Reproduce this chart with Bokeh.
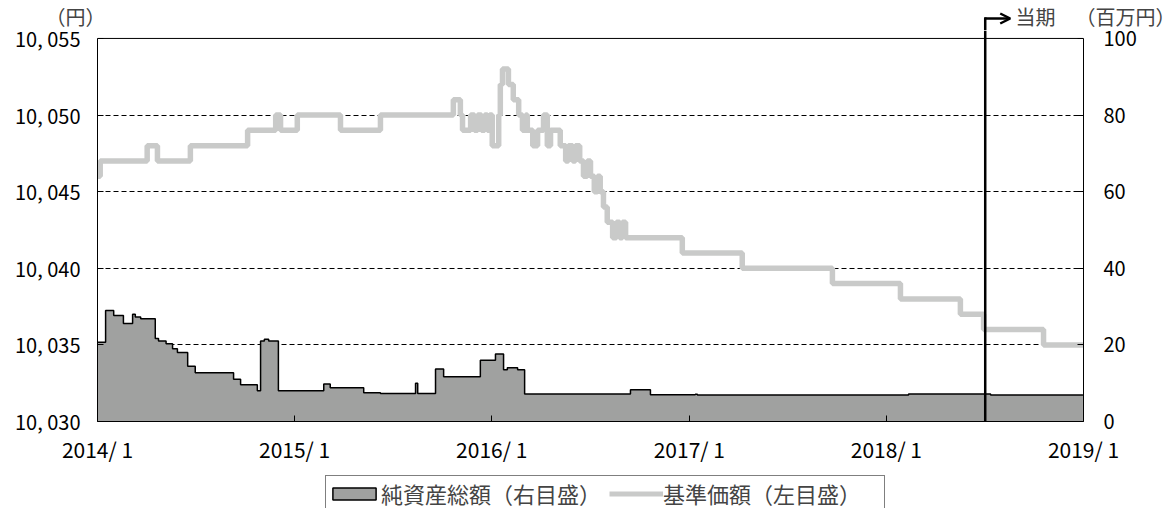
import pandas as pd
from bokeh.plotting import figure
from bokeh.layouts import column
from bokeh.models import (Range1d, LinearAxis, FixedTicker, Legend, LegendItem,
                          Label, Arrow, OpenHead, ColumnDataSource, Span)
from bokeh.embed import file_html
from bokeh.resources import INLINE

# ---------------- data ----------------
price_dates = [
    "2014-01-01", "2014-01-06", "2014-04-03", "2014-04-22", "2014-06-22", "2014-10-06",
    "2014-11-27", "2014-12-06", "2015-01-06", "2015-03-27", "2015-06-09", "2015-10-22",
    "2015-11-04", "2015-11-08", "2015-11-23", "2015-11-30", "2015-12-06", "2015-12-13",
    "2015-12-19", "2015-12-24", "2015-12-28", "2016-01-02", "2016-01-14", "2016-01-17",
    "2016-01-21", "2016-02-01", "2016-02-10", "2016-02-20", "2016-02-27", "2016-03-04",
    "2016-03-07", "2016-03-17", "2016-03-26", "2016-04-06", "2016-04-13", "2016-04-19",
    "2016-05-07", "2016-05-17", "2016-05-22", "2016-05-30", "2016-06-04", "2016-06-12",
    "2016-06-19", "2016-06-26", "2016-07-02", "2016-07-09", "2016-07-15", "2016-07-20",
    "2016-07-26", "2016-08-02", "2016-08-12", "2016-08-19", "2016-08-25", "2016-08-30",
    "2016-09-05", "2016-12-19", "2017-04-09", "2017-09-23", "2018-01-27", "2018-05-18",
    "2018-06-30", "2018-10-19", "2018-12-31",
]
price_values = [
    10046, 10047, 10048, 10047, 10048, 10049,
    10050, 10049, 10050, 10049, 10050, 10051,
    10050, 10049, 10050, 10049, 10050, 10049,
    10050, 10049, 10050, 10048, 10050, 10052,
    10053, 10052, 10051, 10050, 10049, 10050,
    10049, 10048, 10049, 10050, 10048, 10049,
    10048, 10047, 10048, 10047, 10048, 10047,
    10046, 10047, 10046, 10045, 10046, 10045,
    10044, 10043, 10042, 10043, 10042, 10043,
    10042, 10041, 10040, 10039, 10038, 10037,
    10036, 10035, 10035,
]

nav_dates = [
    "2014-01-01", "2014-01-16", "2014-01-31", "2014-02-18", "2014-03-07", "2014-03-12",
    "2014-03-22", "2014-04-18", "2014-04-24", "2014-05-08", "2014-05-20", "2014-05-29",
    "2014-06-17", "2014-07-01", "2014-09-10", "2014-09-23", "2014-10-24", "2014-10-30",
    "2014-11-06", "2014-11-14", "2014-12-02", "2015-02-24", "2015-03-08", "2015-05-09",
    "2015-06-09", "2015-08-13", "2015-08-17", "2015-09-19", "2015-10-04", "2015-12-11",
    "2016-01-08", "2016-01-23", "2016-01-30", "2016-02-18", "2016-03-02", "2016-09-14",
    "2016-10-21", "2017-01-12", "2017-01-16", "2018-02-11", "2018-07-13", "2018-12-31",
]
nav_values = [
    20.7, 29.0, 27.7, 25.6, 28.0, 27.3,
    26.8, 21.7, 21.0, 20.3, 19.0, 18.0,
    14.4, 12.7, 11.0, 9.6, 8.0, 21.0,
    21.5, 21.0, 8.0, 9.8, 8.8, 7.5,
    7.3, 10.0, 7.3, 13.7, 11.7, 16.0,
    17.6, 13.5, 14.0, 13.5, 7.2, 8.3,
    7.0, 7.1, 6.9, 7.2, 6.9, 6.9,
]

x_tick_dates = ["2014-01-01", "2015-01-01", "2016-01-01", "2017-01-01", "2018-01-01", "2019-01-01"]
x_tick_labels = ["2014/ 1", "2015/ 1", "2016/ 1", "2017/ 1", "2018/ 1", "2019/ 1"]
left_ticks = [10030, 10035, 10040, 10045, 10050, 10055]
left_tick_labels = ["10, 030", "10, 035", "10, 040", "10, 045", "10, 050", "10, 055"]
right_ticks = [0, 20, 40, 60, 80, 100]
grid_ticks = [10035, 10040, 10045, 10050]
period_start = "2018-07-03"

FONT = "Noto Sans CJK JP"
PRICE_COLOR = "#c9cac9"
NAV_COLOR = "#a0a1a0"

# ---------------- layout constants (pixels) ----------------
W = 1168
HDR_H = 30          # header strip (units, 当期 marker)
TOP_PAD = 8         # plot area above the 10,055 line inside main frame
FRAME_L, FRAME_R = 97, 85
BOX_H = 386         # height of the drawn box (10,030 .. 10,055)
MAIN_BOTTOM = 42
FOOT_H = 42


def ms(d):
    return int(pd.Timestamp(d).value // 10**6)


x0, x1 = ms(x_tick_dates[0]), ms(x_tick_dates[-1])
ms_per_px = (x1 - x0) / (W - FRAME_L - FRAME_R)
pm = ms(period_start)

left_lo, left_hi = min(left_ticks), max(left_ticks)
right_lo, right_hi = min(right_ticks), max(right_ticks)
left_top = left_hi + TOP_PAD * (left_hi - left_lo) / BOX_H
right_top = right_hi + TOP_PAD * (right_hi - right_lo) / BOX_H

# ---------------- main figure ----------------
p = figure(width=W, height=TOP_PAD + BOX_H + MAIN_BOTTOM, x_axis_type="datetime",
           x_range=Range1d(x0, x1), y_range=Range1d(left_lo, left_top),
           output_backend="svg", toolbar_location=None,
           min_border_left=FRAME_L, min_border_right=FRAME_R,
           min_border_top=0, min_border_bottom=MAIN_BOTTOM)
p.extra_y_ranges = {"right": Range1d(right_lo, right_top)}
p.outline_line_color = None
p.background_fill_color = "white"
p.border_fill_color = "white"

nav_src = ColumnDataSource(dict(date=pd.to_datetime(nav_dates), nav=nav_values))
price_src = ColumnDataSource(dict(date=pd.to_datetime(price_dates), price=price_values))

p.varea_step(x="date", y1=0, y2="nav", step_mode="after", source=nav_src,
             fill_color=NAV_COLOR, y_range_name="right")
p.step(x="date", y="nav", mode="after", source=nav_src, line_color="black",
       line_width=1.5, y_range_name="right")
p.step(x="date", y="price", mode="after", source=price_src, line_color=PRICE_COLOR,
       line_width=5.5)

x_ms = [ms(d) for d in x_tick_dates]
p.xaxis.ticker = FixedTicker(ticks=x_ms)
p.xaxis.major_label_overrides = dict(zip(x_ms, x_tick_labels))
# top tick listed in the middle so that it is not treated as an end label
left_order = [left_ticks[0], left_ticks[-1]] + left_ticks[1:-1]
p.yaxis.ticker = FixedTicker(ticks=left_order)
p.yaxis.major_label_overrides = dict(zip(left_ticks, left_tick_labels))
p.yaxis.bounds = (left_lo, left_hi)

right_order = [right_ticks[0], right_ticks[-1]] + right_ticks[1:-1]
rax = LinearAxis(y_range_name="right", ticker=FixedTicker(ticks=right_order),
                 bounds=(right_lo, right_hi))
p.add_layout(rax, "right")

for ax in [p.xaxis[0], p.yaxis[0], rax]:
    ax.axis_line_color = "black"
    ax.axis_line_width = 1
    ax.major_tick_line_color = "black"
    ax.major_tick_in = 6
    ax.major_tick_out = 0
    ax.minor_tick_line_color = None
    ax.major_label_text_font = FONT
    ax.major_label_text_font_size = "20px"
    ax.major_label_text_color = "black"
p.xaxis.major_label_text_font_size = "21px"
p.xaxis.major_label_standoff = 12
p.yaxis.major_label_standoff = 17
rax.major_label_standoff = 20

p.xgrid.visible = False
p.ygrid.ticker = FixedTicker(ticks=grid_ticks)
p.ygrid.grid_line_color = "black"
p.ygrid.grid_line_dash = "5 3"
p.ygrid.grid_line_width = 1

# top edge of the box
p.add_layout(Span(location=left_hi, dimension="width", line_color="black", line_width=1))
# period marker (inside plot area)
p.add_layout(Span(location=pm, dimension="height", line_color="black", line_width=2.5))

# ---------------- header strip ----------------
hdr = figure(width=W, height=HDR_H, x_axis_type="datetime",
             x_range=Range1d(x0 - FRAME_L * ms_per_px, x1 + FRAME_R * ms_per_px),
             y_range=Range1d(0, HDR_H),
             output_backend="svg", toolbar_location=None,
             x_axis_location=None, y_axis_location=None, min_border=0)
hdr.frame_align = False
hdr.outline_line_color = None
hdr.grid.visible = False
hdr.border_fill_color = "white"
hdr.background_fill_color = "white"

ARROW_Y = 12
TEXT_Y = 14
hdr.add_layout(Arrow(end=None, x_start=pm, y_start=0, x_end=pm, y_end=ARROW_Y,
                     line_width=2.5, line_color="black", line_cap="square"))
hdr.add_layout(Arrow(end=OpenHead(size=10, line_width=2.5, line_color="black"),
                     x_start=pm, y_start=ARROW_Y, x_end=pm + 25 * ms_per_px, y_end=ARROW_Y,
                     line_width=2.5, line_color="black"))
hdr.add_layout(Label(x=1015, y=TEXT_Y, x_units="screen", y_units="screen", text="当期",
                     text_font=FONT, text_font_size="20px", text_baseline="middle",
                     text_align="left"))
hdr.add_layout(Label(x=75, y=TEXT_Y, x_units="screen", y_units="screen", text="（円）",
                     text_font=FONT, text_font_size="20px", text_align="center",
                     text_baseline="middle"))
hdr.add_layout(Label(x=1125, y=TEXT_Y, x_units="screen", y_units="screen", text="（百万円）",
                     text_font=FONT, text_font_size="20px", text_align="center",
                     text_baseline="middle"))

# ---------------- footer with legend ----------------
ft = figure(width=W, height=FOOT_H, x_range=Range1d(0, 1), y_range=Range1d(0, 1),
            output_backend="svg", toolbar_location=None,
            x_axis_location=None, y_axis_location=None, min_border=0)
ft.frame_align = False
ft.outline_line_color = None
ft.grid.visible = False
ft.border_fill_color = "white"
ft.background_fill_color = "white"
# off-screen stand-ins that only provide the legend swatches
r_area = ft.quad(left=[-3], right=[-2], top=[-2], bottom=[-3], fill_color=NAV_COLOR,
                 line_color="black", line_width=1.5)
r_line = ft.line(x=[-3, -2], y=[-3, -3], line_color=PRICE_COLOR, line_width=5)
legend = Legend(items=[LegendItem(label="純資産総額（右目盛）", renderers=[r_area]),
                       LegendItem(label="基準価額（左目盛）", renderers=[r_line])],
                location=(325, -3), orientation="horizontal",
                border_line_color="black", border_line_width=1, padding=1, spacing=8,
                glyph_width=54, glyph_height=15, label_standoff=0, label_width=220,
                label_text_font=FONT, label_text_font_size="22px", margin=0,
                background_fill_alpha=1)
ft.add_layout(legend)

layout = column(hdr, p, ft, spacing=0)
open("out.html", "w").write(file_html(layout, INLINE))
